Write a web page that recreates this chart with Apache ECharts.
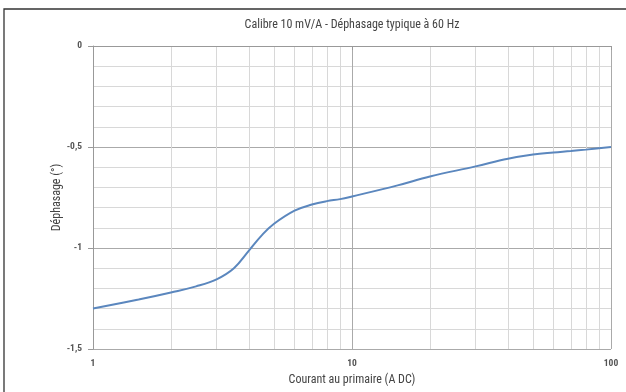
<!DOCTYPE html>
<html>
<head>
<meta charset="utf-8">
<script src="https://cdn.jsdelivr.net/npm/echarts@6/dist/echarts.min.js"></script>
<style>html,body{margin:0;padding:0;background:#fff;}#c{width:626px;height:392px;}</style>
</head>
<body>
<div id="c"></div>
<script>
var currents = [1, 1.5, 2, 2.5, 3, 3.5, 4, 4.5, 5, 6, 7, 8, 9, 10, 15, 20, 30, 40, 50, 60, 70, 80, 100];
var phase = [-1.30, -1.255, -1.22, -1.19, -1.155, -1.10, -1.013, -0.935, -0.88, -0.815, -0.785, -0.768, -0.758, -0.745, -0.69, -0.646, -0.596, -0.558, -0.537, -0.527, -0.52, -0.513, -0.50];
var titleText = 'Calibre 10 mV/A - Déphasage typique à 60 Hz';
var xName = 'Courant au primaire (A DC)';
var yName = 'Déphasage (°)';

var font = '"Roboto Condensed", "Liberation Sans Narrow", sans-serif';
var chart = echarts.init(document.getElementById('c'), null, {renderer: 'canvas'});
var data = currents.map(function (c, i) { return [c, phase[i]]; });
chart.setOption({
  animation: false,
  backgroundColor: '#fff',
  graphic: [{
    type: 'rect', position: [4, 9], shape: {x: 0, y: 0, width: 640, height: 400},
    style: {fill: 'none', stroke: '#333', lineWidth: 1.3}, silent: true, z: 100
  }, {
    type: 'text', position: [352, 19], silent: true,
    style: {text: titleText, font: '12px ' + font, fill: '#444', textAlign: 'center', textVerticalAlign: 'top'}
  }],
  grid: {left: 93, right: 15, top: 46, bottom: 43},
  xAxis: {
    type: 'log', logBase: 10, min: 1, max: 100,
    name: xName, nameLocation: 'middle', nameGap: 25, nameMoveOverlap: false,
    nameTextStyle: {fontFamily: font, fontSize: 12, color: '#444'},
    axisLine: {lineStyle: {color: '#999', width: 1}},
    axisTick: {show: true, length: 4, lineStyle: {color: '#999'}},
    axisLabel: {fontFamily: font, fontSize: 9.5, fontWeight: 'bold', color: '#555', margin: 10},
    splitLine: {show: true, lineStyle: {color: '#aaa', width: 1}},
    minorTick: {show: false, splitNumber: 9},
    minorSplitLine: {show: true, lineStyle: {color: '#d8d8d8', width: 1}}
  },
  yAxis: {
    type: 'value', min: -1.5, max: 0, interval: 0.5,
    name: yName, nameLocation: 'middle', nameGap: 30, nameMoveOverlap: false,
    nameTextStyle: {fontFamily: font, fontSize: 12, color: '#444'},
    axisLine: {show: true, lineStyle: {color: '#999', width: 1}},
    axisTick: {show: true, length: 5, lineStyle: {color: '#999'}},
    axisLabel: {fontFamily: font, fontSize: 9.5, fontWeight: 'bold', color: '#555', margin: 11,
      formatter: function (v) { return String(v).replace('.', ','); }},
    splitLine: {show: true, lineStyle: {color: '#aaa', width: 1}},
    minorTick: {show: false, splitNumber: 5},
    minorSplitLine: {show: true, lineStyle: {color: '#d8d8d8', width: 1}}
  },
  series: [{
    type: 'line', data: data, smooth: 0.4, showSymbol: false,
    lineStyle: {color: '#5b87be', width: 2}
  }]
});
</script>
</body>
</html>
